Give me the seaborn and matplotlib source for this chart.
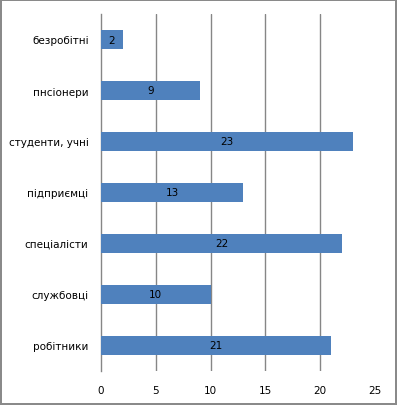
import matplotlib
matplotlib.use("Agg")
import matplotlib.pyplot as plt
import seaborn as sns
import pandas as pd

categories = ["безробітні", "пнсіонери", "студенти, учні", "підприємці",
              "спеціалісти", "службовці", "робітники"]
values = [2, 9, 23, 13, 22, 10, 21]
x_ticks = [0, 5, 10, 15, 20, 25]

df = pd.DataFrame({"category": categories, "value": values})

sns.set_style("white")
plt.rcParams["font.family"] = ["DejaVu Sans"]

fig = plt.figure(figsize=(3.97, 4.06), dpi=100, linewidth=1.5, edgecolor="#8a8a8a")
ax = fig.add_axes([101 / 397, 1 - 372 / 406, 274 / 397, 357 / 406])

sns.barplot(data=df, x="value", y="category", orient="h", color="#4F81BD",
            saturation=1, width=0.39, linewidth=0, ax=ax, zorder=3)

for i, v in enumerate(values):
    ax.text(v / 2, i, str(v), ha="center", va="center", fontsize=7.5,
            color="black", zorder=4)

ax.set_xlim(0, 25)
ax.set_ylim(6.5, -0.5)
ax.set_xticks(x_ticks)
ax.set_xlabel("")
ax.set_ylabel("")
for xv in x_ticks[1:-1]:
    ax.axvline(xv, color="#868686", lw=1, zorder=1)

for s in ["top", "right", "bottom"]:
    ax.spines[s].set_visible(False)
ax.spines["left"].set_color("#868686")
ax.spines["left"].set_linewidth(1)

ax.set_yticks([i + 0.5 for i in range(-1, 7)], minor=True)
ax.tick_params(axis="y", which="minor", length=4, color="#868686", width=1)
ax.tick_params(axis="y", which="major", length=0, pad=9, labelsize=7.5,
               labelcolor="black")
ax.tick_params(axis="x", length=0, pad=10, labelsize=7.5, labelcolor="black")

fig.savefig("out.png", dpi=100)
